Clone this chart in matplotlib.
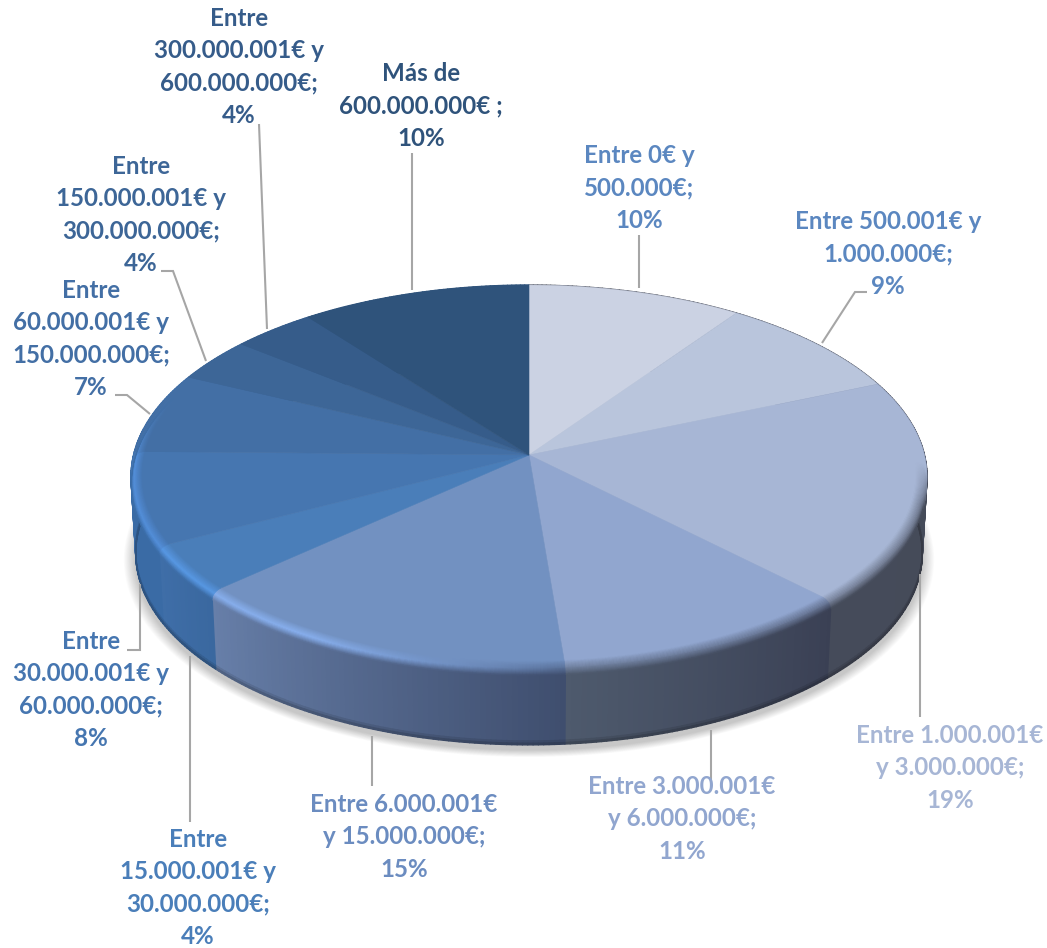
#!/usr/bin/env python3
import numpy as np
import matplotlib
matplotlib.use('Agg')
import matplotlib.pyplot as plt
from matplotlib.collections import PolyCollection
from matplotlib.colors import to_rgb

plt.rcParams['font.family'] = ['Lato', 'DejaVu Sans']

ranges = ['Entre 0€ y\n500.000€;', 'Entre 500.001€ y\n1.000.000€;', 'Entre 1.000.001€\ny 3.000.000€;',
          'Entre 3.000.001€\ny 6.000.000€;', 'Entre 6.000.001€\ny 15.000.000€;',
          'Entre\n15.000.001€ y\n30.000.000€;', 'Entre\n30.000.001€ y\n60.000.000€;',
          'Entre\n60.000.001€ y\n150.000.000€;', 'Entre\n150.000.001€ y\n300.000.000€;',
          'Entre\n300.000.001€ y\n600.000.000€;', 'Más de\n600.000.000€ ;']
# unrounded shares estimated from the slice boundaries, labels show them rounded
shares = [9.7, 8.9, 19.0, 11.1, 14.6, 4.1, 7.9, 6.8, 3.7, 3.8, 10.4]

top_colors = ['#cbd2e3', '#b9c5dc', '#a7b6d5', '#91a6cf', '#7291c1', '#4a7eb9',
              '#4676b0', '#436fa5', '#3d6697', '#365c8a', '#2f537b']
wall_from = ['#454a58', '#454a58', '#454a58', '#3a4054', '#3f4e6e', '#3a689f',
             '#3a6ba5', '#3a6ba5', '#3d6697', '#365c8a', '#2f537b']
wall_to = ['#454a58', '#454a58', '#454b5a', '#4e5a6d', '#677fa9', '#3f6ea8',
           '#3a6ba5', '#3a6ba5', '#3d6697', '#365c8a', '#2f537b']
text_colors = ['#5b87c0', '#5b87c0', '#a7b6d5', '#91a6cf', '#6b8cc0', '#4a7eb9',
               '#4676b0', '#436fa5', '#3d6697', '#365c8a', '#2f537b']

# label centre x, first line centre y
label_x = [639, 888, 950, 682, 404, 198, 91, 91, 141, 239, 421]
label_y = [155, 221, 735, 786, 804, 839, 641, 290, 166, 18, 73]
leaders = [[(639, 235), (639, 288)],
           [(867, 292), (855, 292), (822, 343)],
           [(920, 717), (920, 574)],
           [(711, 787), (711, 730)],
           [(372, 786), (372, 736)],
           [(190, 822), (190, 656)],
           [(127, 650), (140, 650), (140, 584)],
           [(115, 395), (127, 395), (150, 414)],
           [(161, 271), (173, 271), (206, 361)],
           [(259, 124), (267, 329)],
           [(412, 153), (412, 290)]]

cx, cy = 529, 455
A, B, K = 395.5, 189.0, 0.112
depth = 77


def proj(theta, r=1.0, z=0.0):
    x = r * np.sin(theta)
    y = r * np.cos(theta)
    w = 1 + K * y
    return np.column_stack([cx + A * x / w * (1 - 0.012 * z), cy - B * y / w + depth * z])


def rgb(c):
    return np.array(to_rgb(c))


def strip(t0, t1, r0, z0, r1, z1):
    a = proj(t0, r0, z0)
    b = proj(t1, r0, z0)
    c = proj(t1, r1, z1)
    d = proj(t0, r1, z1)
    return np.stack([a, b, c, d], axis=1)


fig = plt.figure(figsize=(10.47, 9.48), dpi=100)
ax = fig.add_axes([0, 0, 1, 1])
ax.set_xlim(0, 1047)
ax.set_ylim(948, 0)
ax.axis('off')

edges = np.concatenate([[0], np.cumsum(shares)]) / sum(shares) * 2 * np.pi

# soft shadow
th = np.linspace(0, 2 * np.pi, 400)
for i in range(14):
    grow = 1.03 - 0.03 * i / 14
    pts = proj(th, grow, 1.0) + np.array([0, 5])
    ax.fill(pts[:, 0], pts[:, 1], color='black', alpha=0.016, lw=0, zorder=1)

polys = []
cols = []
for i in range(len(shares)):
    n = max(int((edges[i + 1] - edges[i]) / 0.012), 4)
    g = np.linspace(edges[i], edges[i + 1], n + 1)
    t0, t1 = g[:-1], g[1:]
    frac = ((t0 + t1) / 2 - edges[i]) / (edges[i + 1] - edges[i])
    wall = rgb(wall_from[i])[None, :] * (1 - frac[:, None]) + rgb(wall_to[i])[None, :] * frac[:, None]
    # wall, a bit darker at its very bottom
    for z0, z1, dark in [(0.0, 0.95, 1.0), (0.95, 0.98, 0.9), (0.98, 1.0, 0.78)]:
        polys.extend(strip(t0, t1, 1.0, z0, 1.0, z1))
        cols.extend(wall * dark)
ax.add_collection(PolyCollection(polys, facecolors=cols, edgecolors=cols, linewidths=1.0, zorder=2))

# top of the pie
for i in range(len(shares)):
    g = np.linspace(edges[i], edges[i + 1], 120)
    pts = np.vstack([[cx, cy], proj(g)])
    ax.fill(pts[:, 0], pts[:, 1], color=top_colors[i], lw=0.4, zorder=3)

# bevel along the front rim
polys = []
cols = []
levels = 16
for i in range(len(shares)):
    n = max(int((edges[i + 1] - edges[i]) / 0.008), 4)
    g = np.linspace(edges[i], edges[i + 1], n + 1)
    t0, t1 = g[:-1], g[1:]
    mid = (t0 + t1) / 2
    frac = (mid - edges[i]) / (edges[i + 1] - edges[i])
    deg = np.degrees(mid)
    wall = rgb(wall_from[i])[None, :] * (1 - frac[:, None]) + rgb(wall_to[i])[None, :] * frac[:, None]
    top = rgb(top_colors[i])[None, :].repeat(len(mid), axis=0)
    front = np.clip((deg - 92) / 12, 0, 1) * np.clip((292 - deg) / 22, 0, 1)
    glow = np.clip((deg - 175) / 35, 0, 1)
    light = np.clip(top * 1.2 + np.array([0.0, 0.01, 0.03]), 0, 1)
    plain = (top + wall) / 2
    peak = plain + (light - plain) * glow[:, None]
    for k in range(levels):
        s0, s1 = k / levels, (k + 1) / levels
        r0 = 0.972 + 0.028 * np.sin(s0 * np.pi / 2)
        r1 = 0.972 + 0.028 * np.sin(s1 * np.pi / 2)
        z0 = 0.10 * (1 - np.cos(s0 * np.pi / 2))
        z1 = 0.10 * (1 - np.cos(s1 * np.pi / 2))
        s = (s0 + s1) / 2
        if s < 0.55:
            c = top + (peak - top) * (s / 0.55)
        else:
            c = peak + (wall - peak) * ((s - 0.55) / 0.45)
        c = top + (c - top) * front[:, None]
        keep = front > 0
        polys.extend(strip(t0[keep], t1[keep], r0, z0, r1, z1))
        cols.extend(c[keep])
ax.add_collection(PolyCollection(polys, facecolors=cols, edgecolors=cols, linewidths=0.3, zorder=4))

# leader lines
for line in leaders:
    xs, ys = zip(*line)
    ax.plot(xs, ys, color='#a6a6a6', lw=1.5, zorder=5, solid_capstyle='butt', solid_joinstyle='miter')

# labels
for i in range(len(shares)):
    txt = f'{ranges[i]}\n{shares[i]:.0f}%'
    ax.text(label_x[i], label_y[i] - 11, txt, ha='center', va='top', ma='center', color=text_colors[i],
            fontsize=17.4, fontweight='bold', linespacing=1.49, zorder=6)

fig.savefig('out.png', dpi=100)
